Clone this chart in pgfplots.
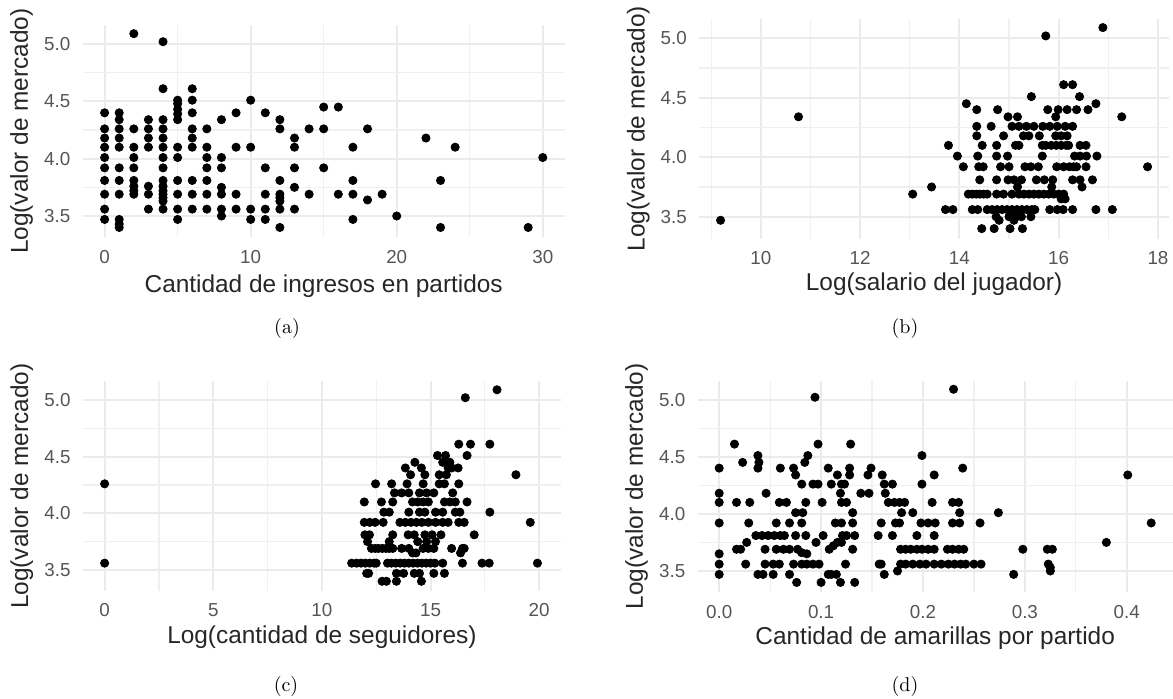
\documentclass[border=0pt]{standalone}
\usepackage{fontspec}
\usepackage{pgfplots}
\pgfplotsset{compat=1.18}
\newfontfamily\arial{Liberation Sans}
\definecolor{gridmaj}{HTML}{EBEBEB}
\definecolor{gridmin}{HTML}{F0F0F0}
\definecolor{tickc}{HTML}{555555}
\pgfplotsset{ggp/.style={
  scale only axis, anchor=north west,
  axis line style={draw=none},
  tick style={draw=none}, major tick length=0pt, minor tick length=0pt,
  grid=both,
  major grid style={draw=gridmaj, line width=1pt},
  minor grid style={draw=gridmin, line width=0.6pt},
  /pgf/number format/assume math mode=true,
  ticklabel style={font=\arial\fontsize{9.4}{10}\selectfont, text=tickc, inner sep=0pt},
  yticklabel style={anchor=east, xshift=-6pt, /pgf/number format/.cd, fixed, fixed zerofill, precision=1, /tikz/.cd},
  xticklabel style={anchor=north, yshift=-6.25pt},
  label style={font=\arial\fontsize{12.2}{14}\selectfont, text=black!85, inner sep=0pt},
  ylabel={Log(valor de mercado)},
  ymin=3.316, ymax=5.164,
  ytick={3.5,4.0,4.5,5.0}, minor ytick={3.75,4.25,4.75},
}, dots/.style={only marks, mark=*, mark size=2.05pt, black, mark options={fill=black, draw=none}}}
\begin{document}
\begin{tikzpicture}
\path[use as bounding box] (0,0) rectangle (586.5pt,349pt);
% (a)
\begin{axis}[ggp, at={(41.35pt,336.4pt)}, width=241pt, height=105.95pt,
  xmin=-1.5, xmax=31.5, xtick={0,10,20,30}, minor xtick={5,15,25},
  xlabel={Cantidad de ingresos en partidos},
  xlabel style={at={(axis description cs:0.5,0)}, anchor=base, yshift=-27.5pt},
  ylabel style={at={(axis description cs:-0.1266,0.5)}, anchor=center}]
\addplot[dots] coordinates {
(0,4.40)(0,4.26)(0,4.18)(0,4.10)(0,4.01)(0,3.92)(0,3.81)(0,3.69)(0,3.56)(0,3.47)
(1,4.40)(1,4.34)(1,4.26)(1,4.18)(1,4.10)(1,3.92)(1,3.81)(1,3.69)(1,3.47)(1,3.43)(1,3.40)
(2,5.09)(2,4.26)(2,4.10)(2,4.01)(2,3.92)(2,3.81)(2,3.76)(2,3.72)(2,3.69)
(3,4.34)(3,4.26)(3,4.18)(3,4.10)(3,3.76)(3,3.69)(3,3.56)
(4,5.02)(4,4.61)(4,4.34)(4,4.26)(4,4.18)(4,4.10)(4,4.01)(4,3.92)(4,3.81)(4,3.76)(4,3.72)(4,3.69)(4,3.66)(4,3.63)(4,3.56)
(5,4.51)(5,4.48)(5,4.43)(5,4.39)(5,4.34)(5,4.10)(5,4.01)(5,3.81)(5,3.69)(5,3.56)(5,3.47)
(6,4.61)(6,4.51)(6,4.40)(6,4.26)(6,4.18)(6,4.10)(6,3.81)(6,3.69)(6,3.56)
(7,4.26)(7,4.10)(7,4.01)(7,3.92)(7,3.81)(7,3.69)(7,3.56)
(8,4.34)(8,4.01)(8,3.92)(8,3.75)(8,3.69)(8,3.56)(8,3.50)
(9,4.40)(9,4.10)(9,3.69)(9,3.56)
(10,4.51)(10,4.10)(10,3.56)(10,3.47)
(11,4.40)(11,3.92)(11,3.69)(11,3.56)(11,3.47)
(12,4.34)(12,4.26)(12,3.81)(12,3.69)(12,3.66)(12,3.63)(12,3.56)(12,3.40)
(13,4.18)(13,4.10)(13,3.92)(13,3.75)(13,3.56)
(14,4.26)(14,3.69)
(15,4.45)(15,4.26)(15,3.92)
(16,4.45)(16,3.69)
(17,4.10)(17,3.81)(17,3.69)(17,3.47)
(18,4.26)(18,3.64)
(19,3.69)(20,3.50)(22,4.18)(23,3.81)(23,3.40)(24,4.10)(29,3.40)(30,4.01)
};
\end{axis}
% (b)
\begin{axis}[ggp, at={(349.6pt,339.6pt)}, width=234.85pt, height=109.9pt,
  xmin=8.76, xmax=18.22, xtick={10,12,14,16,18}, minor xtick={9,11,13,15,17},
  xlabel={Log(salario del jugador)},
  xlabel style={at={(axis description cs:0.5,0)}, anchor=base, yshift=-25.7pt},
  ylabel style={at={(axis description cs:-0.1299,0.5)}, anchor=center}]
\addplot[dots] coordinates {
(9.19,3.47)(10.76,4.34)(13.06,3.69)(13.44,3.75)(15.74,5.02)(16.89,5.09)(17.79,3.92)(17.27,4.34)
(16.75,4.45)(17.08,3.56)(16.75,3.56)(15.45,4.51)(16.10,4.61)(16.28,4.61)(16.42,4.51)(14.14,4.45)
(14.35,4.40)(14.77,4.40)(15.78,4.40)(15.99,4.40)(16.17,4.40)(16.36,4.40)(16.59,4.40)
(14.98,4.34)(15.17,4.34)(15.94,4.34)
(14.35,4.26)(14.64,4.26)(15.06,4.26)(15.20,4.26)(15.35,4.26)(15.50,4.26)(15.68,4.26)(15.82,4.26)(15.97,4.26)(16.13,4.26)(16.28,4.26)
(14.35,4.18)(14.89,4.18)(15.29,4.18)(15.40,4.18)(15.61,4.18)(15.94,4.18)(16.05,4.18)(16.17,4.18)
(13.78,4.10)(14.46,4.10)(14.75,4.10)(15.13,4.10)(15.20,4.10)(15.67,4.10)(15.74,4.10)(15.85,4.10)(15.95,4.10)(16.05,4.10)(16.15,4.10)(16.20,4.10)(16.43,4.10)(16.55,4.10)
(13.96,4.01)(14.37,4.01)(14.75,4.01)(14.97,4.01)(15.67,4.01)(16.32,4.01)(16.43,4.01)(16.56,4.01)(16.77,4.01)
(14.08,3.92)(14.39,3.92)(14.48,3.92)(14.83,3.92)(15.00,3.92)(15.32,3.92)(15.44,3.92)(15.59,3.92)(15.96,3.92)(16.10,3.92)(16.22,3.92)(16.30,3.92)(16.36,3.92)(16.55,3.92)
(14.41,3.81)(14.75,3.81)(14.98,3.81)(15.10,3.81)(15.25,3.81)(15.55,3.81)(15.71,3.81)(15.88,3.81)(16.28,3.81)(16.43,3.81)(16.68,3.81)
(15.17,3.75)(15.86,3.75)(16.47,3.75)
(14.18,3.69)(14.26,3.69)(14.34,3.69)(14.41,3.69)(14.49,3.69)(14.56,3.69)(14.75,3.69)(14.89,3.69)(15.06,3.69)(15.20,3.69)(15.30,3.69)(15.40,3.69)(15.50,3.69)(15.60,3.69)(15.70,3.69)(15.80,3.69)(15.90,3.69)(16.00,3.69)(16.10,3.69)
(16.05,3.65)(16.13,3.65)
(13.72,3.56)(13.87,3.56)(14.26,3.56)(14.37,3.56)(14.56,3.56)(14.66,3.56)(14.76,3.56)(14.86,3.56)(14.96,3.56)(15.06,3.56)(15.16,3.56)(15.26,3.56)(15.36,3.56)(15.46,3.56)(15.52,3.56)(15.82,3.56)(15.97,3.56)(16.09,3.56)(16.28,3.56)
(14.74,3.50)(15.00,3.50)(15.13,3.50)(15.25,3.50)(15.44,3.50)(14.80,3.47)(15.10,3.47)
(14.45,3.40)(14.70,3.40)(15.02,3.40)(15.27,3.40)
};
\end{axis}
% (c)
\begin{axis}[ggp, at={(41.45pt,158.3pt)}, width=239pt, height=104.7pt,
  xmin=-1, xmax=21, xtick={0,5,10,15,20}, minor xtick={2.5,7.5,12.5,17.5},
  xlabel={Log(cantidad de seguidores)},
  xlabel style={at={(axis description cs:0.5,0)}, anchor=base, yshift=-26.1pt},
  ylabel style={at={(axis description cs:-0.1276,0.5)}, anchor=center}]
\addplot[dots] coordinates {
(0,4.26)(0,3.56)(18.06,5.09)(16.60,5.02)(16.30,4.61)(16.84,4.61)(17.73,4.61)(16.68,4.51)
(18.93,4.34)(19.59,3.92)(19.92,3.56)(17.73,4.01)(17.01,3.81)(17.37,3.56)(17.70,3.56)(16.47,3.56)
(15.32,4.51)(15.69,4.51)(14.28,4.45)(15.56,4.45)(15.89,4.45)
(13.84,4.40)(14.58,4.40)(15.81,4.40)(15.97,4.40)(16.27,4.40)
(14.08,4.34)(14.74,4.34)(15.40,4.34)(15.73,4.34)
(12.47,4.26)(13.21,4.26)(13.92,4.26)(14.66,4.26)(15.40,4.26)(15.64,4.26)(16.30,4.26)
(13.34,4.18)(13.67,4.18)(14.00,4.18)(14.49,4.18)(14.82,4.18)(15.15,4.18)(16.02,4.18)
(11.95,4.10)(12.74,4.10)(13.26,4.10)(14.17,4.10)(14.41,4.10)(14.66,4.10)(14.90,4.10)(15.64,4.10)(15.89,4.10)(16.14,4.10)(16.68,4.10)
(12.85,4.01)(13.10,4.01)(14.00,4.01)(14.49,4.01)(14.74,4.01)(15.23,4.01)(15.56,4.01)(16.14,4.01)(16.35,4.01)
(11.95,3.92)(12.20,3.92)(12.45,3.92)(12.82,3.92)(13.59,3.92)(13.84,3.92)(14.10,3.92)(14.35,3.92)(14.60,3.92)(14.90,3.92)(15.23,3.92)(15.56,3.92)(15.81,3.92)(16.30,3.92)(16.55,3.92)
(11.98,3.81)(12.19,3.81)(13.26,3.81)(13.97,3.81)(14.25,3.81)(14.74,3.81)(15.07,3.81)(15.48,3.81)
(12.10,3.75)(13.10,3.75)(14.41,3.75)(14.82,3.75)(15.23,3.75)
(12.28,3.69)(12.45,3.69)(12.60,3.69)(12.78,3.69)(12.95,3.69)(13.10,3.69)(13.26,3.69)(13.67,3.69)(14.00,3.69)(14.66,3.69)(14.90,3.69)(15.15,3.69)(15.97,3.69)(16.47,3.69)(16.55,3.69)
(14.17,3.65)(14.33,3.65)(16.38,3.65)
(11.37,3.56)(11.60,3.56)(11.80,3.56)(12.00,3.56)(12.20,3.56)(12.40,3.56)(12.50,3.56)(13.02,3.56)(13.20,3.56)(13.40,3.56)(13.60,3.56)(13.80,3.56)(14.00,3.56)(14.20,3.56)(14.40,3.56)(14.60,3.56)(14.80,3.56)(15.00,3.56)(15.20,3.56)(15.56,3.56)
(12.06,3.47)(12.15,3.47)(13.43,3.47)(13.76,3.47)(14.25,3.47)(14.49,3.47)(15.15,3.47)(15.64,3.47)
(12.77,3.40)(12.97,3.40)(13.43,3.40)(14.58,3.40)
};
\end{axis}
% (d)
\begin{axis}[ggp, at={(348.8pt,158.6pt)}, width=237.6pt, height=105.6pt,
  xmin=-0.0212, xmax=0.4452, xtick={0,0.1,0.2,0.3,0.4}, minor xtick={0.05,0.15,0.25,0.35},
  xticklabel style={/pgf/number format/.cd, fixed, fixed zerofill, precision=1, /tikz/.cd},
  xlabel={Cantidad de amarillas por partido},
  xlabel style={at={(axis description cs:0.5,0)}, anchor=base, yshift=-26pt},
  ylabel style={at={(axis description cs:-0.1284,0.5)}, anchor=center}]
\addplot[dots] coordinates {
(0,4.40)(0,4.18)(0,4.10)(0,3.92)(0,3.65)(0,3.56)(0,3.47)
(0.015,4.61)(0.023,4.45)(0.017,3.69)(0.021,3.69)(0.027,3.75)(0.017,4.10)(0.030,4.10)(0.029,3.92)(0.026,3.56)
(0.038,4.51)(0.039,4.45)(0.038,4.40)(0.046,4.18)
(0.036,3.81)(0.042,3.81)(0.048,3.81)(0.054,3.81)(0.060,3.81)(0.064,3.81)
(0.038,3.47)(0.043,3.47)(0.053,3.47)
(0.045,3.69)(0.056,3.69)(0.063,3.69)(0.069,3.69)
(0.045,3.56)(0.053,3.56)(0.059,3.56)
(0.056,3.92)(0.060,4.40)(0.059,4.10)(0.066,4.10)(0.069,3.92)(0.069,3.47)
(0.073,4.40)(0.075,4.34)(0.075,3.81)(0.085,3.81)
(0.073,3.56)(0.081,3.56)(0.086,3.56)(0.092,3.56)(0.098,3.56)
(0.076,3.40)(0.075,4.01)(0.082,4.01)(0.081,3.92)
(0.077,3.69)(0.081,3.66)(0.086,3.65)
(0.081,4.26)(0.085,4.10)(0.084,4.45)(0.087,4.51)
(0.094,5.02)(0.097,4.61)(0.092,4.26)(0.097,4.26)(0.095,3.75)
(0.101,4.10)(0.102,3.81)(0.100,3.40)(0.107,4.40)
(0.107,3.47)(0.110,3.47)(0.115,3.47)
(0.108,3.69)(0.112,3.72)(0.116,3.75)(0.120,3.75)
(0.110,4.26)(0.120,4.26)(0.123,4.26)(0.116,4.34)(0.119,4.18)
(0.120,4.10)(0.125,4.10)(0.114,3.92)(0.120,3.92)
(0.121,3.81)(0.125,3.81)(0.133,3.81)(0.124,3.56)(0.119,3.40)(0.133,3.40)
(0.128,4.34)(0.129,4.61)(0.128,4.40)(0.131,4.01)(0.131,3.92)(0.131,3.69)
(0.139,4.18)(0.147,4.18)(0.146,4.34)(0.149,4.40)
(0.159,3.92)(0.156,3.81)(0.157,3.56)(0.159,3.56)
(0.160,4.34)(0.162,4.26)(0.170,4.26)(0.163,4.18)(0.166,4.10)(0.172,4.10)(0.177,4.10)(0.182,4.10)
(0.162,3.47)(0.170,3.81)(0.173,3.92)(0.175,3.50)
(0.178,3.56)(0.183,3.56)(0.190,3.56)(0.197,3.56)(0.203,3.56)(0.211,3.56)(0.218,3.56)(0.225,3.56)(0.231,3.56)(0.237,3.56)(0.242,3.56)(0.250,3.56)(0.257,3.56)
(0.179,4.01)(0.190,4.01)
(0.178,3.69)(0.183,3.69)(0.188,3.69)(0.194,3.69)(0.199,3.69)(0.205,3.69)(0.211,3.69)(0.224,3.69)(0.229,3.69)(0.235,3.69)(0.240,3.69)
(0.194,3.81)(0.211,3.81)(0.177,3.92)(0.199,4.26)(0.199,4.51)(0.209,4.10)
(0.198,3.92)(0.205,3.92)(0.212,3.92)(0.211,4.34)
(0.230,5.09)(0.239,4.40)(0.229,4.10)(0.235,4.10)(0.229,3.92)(0.236,3.92)(0.236,4.01)
(0.256,3.92)(0.274,4.01)(0.289,3.47)(0.298,3.69)(0.322,3.69)(0.327,3.69)
(0.323,3.56)(0.325,3.53)(0.325,3.50)
(0.380,3.75)(0.401,4.34)(0.424,3.92)
};
\end{axis}
\begin{scope}[every node/.style={anchor=base, inner sep=0pt, font=\fontsize{10}{12}\selectfont}]
\node at (143.5pt,182.5pt) {(a)};
\node at (452.5pt,182.5pt) {(b)};
\node at (143pt,3.5pt) {(c)};
\node at (452.5pt,3.5pt) {(d)};
\end{scope}
\end{tikzpicture}
\end{document}
